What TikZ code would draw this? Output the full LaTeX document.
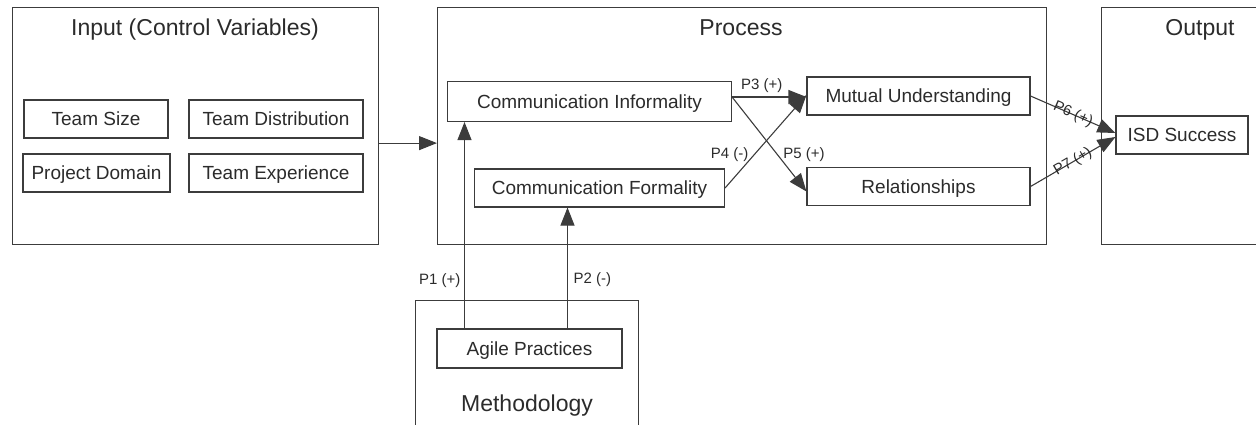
\documentclass[tikz,border=0pt]{standalone}
\usepackage{fontspec}
\setmainfont{Liberation Sans}
\usetikzlibrary{arrows.meta}
\definecolor{ink}{HTML}{2B2B2B}
\definecolor{frame}{HTML}{3C3C3C}
\tikzset{
  x=1pt, y=-1pt,
  group/.style={draw=frame, line width=1.2pt, inner sep=0pt, anchor=north west},
  item/.style={draw=frame, line width=1.1pt, inner sep=0pt, minimum height=38pt,
    text height=13.6pt, text depth=0pt,
    text=ink, font=\fontsize{19}{22}\selectfont},
  heading/.style={text=ink, inner sep=0pt, text height=16.5pt, text depth=0pt,
    font=\fontsize{23}{26}\selectfont},
  link/.style={draw=frame, line width=1.1pt, -{Triangle[length=18pt,width=14pt]}},
  plabel/.style={text=ink, inner sep=1.5pt, font=\fontsize{15}{17}\selectfont},
}
\begin{document}
\begin{tikzpicture}
\useasboundingbox (0,0) rectangle (1256,424);
\clip (0,0) rectangle (1256,424);

% group frames
\node[group, minimum width=366pt, minimum height=237pt] (input) at (12,7) {};
\node[group, minimum width=609pt, minimum height=237pt] (process) at (437,7) {};
\node[group, minimum width=200pt, minimum height=237pt] (output) at (1101,7) {};
\node[group, minimum width=223pt, minimum height=150pt] (method) at (415,300) {};

% frame titles
\node[heading] (tin) at (195,27) {Input (Control Variables)};
\node[heading] (tpr) at (741,27) {Process};
\node[heading] (tout) at (1200,27) {Output};
\node[heading] (tme) at (527,403) {Methodology};

% control variables
\node[item, minimum width=144pt] (ts) at (96,119) {Team Size};
\node[item, minimum width=174pt] (td) at (276,119) {Team Distribution};
\node[item, minimum width=147pt] (pd) at (96.5,173) {Project Domain};
\node[item, minimum width=174pt] (te) at (276,173) {Team Experience};

% process constructs
\node[item, minimum width=284pt, minimum height=40pt] (ci) at (589.5,101.5) {Communication Informality};
\node[item, minimum width=250pt] (cf) at (599.5,188) {Communication Formality};
\node[item, minimum width=223pt] (mu) at (918.5,96) {Mutual Understanding};
\node[item, minimum width=223pt] (rel) at (918.5,186.5) {Relationships};

% outcome and methodology
\node[item, minimum width=132pt] (isd) at (1182,135) {ISD Success};
\node[item, minimum width=185pt, minimum height=39pt] (ap) at (529.5,348.5) {Agile Practices};

% input feeds the process
\draw[link] ([yshift=-17pt]input.east) -- ([yshift=-17pt]process.west);

% methodology propositions
\draw[link] ([xshift=-65pt]ap.north) -- ([xshift=-65pt]ap.north |- ci.south)
  node[plabel, pos=0.23, left=2pt] {P1 (+)};
\draw[link] ([xshift=38pt]ap.north) -- ([xshift=38pt]ap.north |- cf.south)
  node[plabel, pos=0.4, right=4pt] {P2 ({-})};

% communication propositions
\coordinate (ciout) at ([yshift=4.5pt]ci.east);
\draw[link] (ciout) -- (mu.west |- ciout)
  node[plabel, pos=0.4, above=2pt] {P3 (+)};
\draw[link] (cf.east) -- ([yshift=1pt]mu.west)
  node[plabel, pos=0.36, left=4pt] {P4 ({-})};
\draw[link] (ciout) -- ([yshift=-5pt]rel.west)
  node[plabel, pos=0.61, right=4pt] {P5 (+)};

% outcome propositions
\draw[link] (mu.east) -- ([yshift=2pt]isd.west)
  node[plabel, sloped, pos=0.5, inner sep=0pt] {P6 (+)};
\draw[link] (rel.east) -- ([yshift=-2pt]isd.west)
  node[plabel, sloped, pos=0.5, inner sep=0pt] {P7 (+)};
\end{tikzpicture}
\end{document}
